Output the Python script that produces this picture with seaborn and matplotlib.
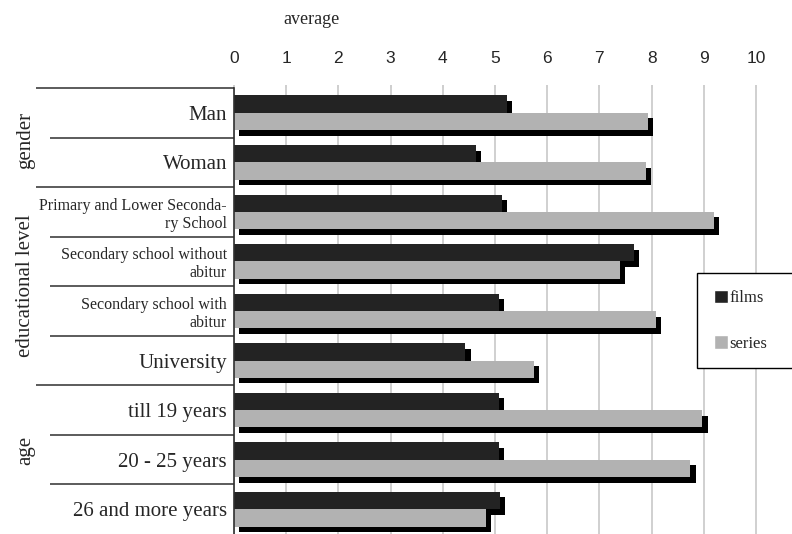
import matplotlib
matplotlib.use("Agg")
import matplotlib.pyplot as plt
import matplotlib.patheffects as pe
import matplotlib.transforms as mtransforms
from matplotlib.patches import Patch
import seaborn as sns
import pandas as pd

categories = ["Man", "Woman", "Primary and Lower Seconda-\nry School",
              "Secondary school without\nabitur", "Secondary school with\nabitur",
              "University", "till 19 years", "20 - 25 years", "26 and more years"]
films = [5.23, 4.64, 5.13, 7.66, 5.08, 4.43, 5.08, 5.08, 5.10]
series = [7.93, 7.89, 9.19, 7.39, 8.08, 5.75, 8.97, 8.74, 4.83]
groups = ["gender", "educational level", "age"]
group_centers = [0.55, 3.49, 6.82]
xticks = [0, 1, 2, 3, 4, 5, 6, 7, 8, 9, 10]

df = pd.DataFrame({
    "category": categories * 2,
    "value": films + series,
    "type": ["films"] * len(films) + ["series"] * len(series),
})

sns.set_theme(style="white")
plt.rcParams["font.family"] = ["Liberation Serif", "DejaVu Serif"]

W, H = 792, 534
fig = plt.figure(figsize=(W / 100, H / 100), dpi=100)
left, right, top = 234, 770, 88
ax = fig.add_axes([left / W, 0, (right - left) / W, (H - top) / H])

colors = {"films": "#232323", "series": "#b2b2b2"}
sns.barplot(data=df, y="category", x="value", hue="type", order=categories,
            hue_order=["films", "series"], palette=colors, width=0.7,
            orient="h", ax=ax, legend=False, saturation=1, linewidth=0)

shadow = [pe.SimplePatchShadow(offset=(3.8, -4.0), shadow_rgbFace="black", alpha=1.0), pe.Normal()]
for p in ax.patches:
    p.set_path_effects(shadow)

ax.set_xlim(0, (right - left) / 52.2)
ax.set_ylim(8.5, -0.5)
ax.set_xticks(xticks)
ax.xaxis.tick_top()
ax.tick_params(axis="x", top=True, length=2, color="#c8c8c8", pad=14,
               labelsize=12.5, labelfontfamily="Liberation Sans")
ax.grid(axis="x", color="#c8c8c8", linewidth=1.2)
ax.set_axisbelow(True)
ax.set_xlabel("")
ax.set_ylabel("")
for s in ["top", "right", "bottom"]:
    ax.spines[s].set_visible(False)
ax.spines["left"].set_color("#303030")
ax.spines["left"].set_linewidth(1.2)

ax.set_yticks(range(len(categories)))
ax.set_yticklabels(categories)
ax.tick_params(axis="y", length=0, pad=5)
for t in ax.get_yticklabels():
    t.set_fontsize(11.5 if "\n" in t.get_text() else 15)
    t.set_linespacing(1.15)
    t.set_horizontalalignment("right")
    t.set_multialignment("right")

# separators
trans = mtransforms.blended_transform_factory(fig.transFigure, ax.transData)
group_bounds = {-0.5, 1.5, 5.5}
for b in [-0.5, 0.5, 1.5, 2.5, 3.5, 4.5, 5.5, 6.5, 7.5]:
    x0 = 36 if b in group_bounds else 50
    ax.plot([x0 / W, left / W], [b, b], transform=trans, color="#404040",
            lw=1.2, clip_on=False, solid_capstyle="butt")

for g, c in zip(groups, group_centers):
    ax.text(26 / W, c, g, transform=trans, rotation=90, ha="center",
            va="center", fontsize=15)

fig.text(311 / W, 1 - 20 / H, "average", ha="center", va="center", fontsize=13)

handles = [Patch(facecolor=colors["films"], label="films"),
           Patch(facecolor=colors["series"], label="series")]
leg = ax.legend(handles=handles, loc="upper left",
                bbox_to_anchor=(697 / W, (H - 373) / H, 0.2, (373 - 273) / H),
                bbox_transform=fig.transFigure, mode="expand", fontsize=12,
                frameon=True, fancybox=False, framealpha=1, edgecolor="black",
                borderpad=1.0, labelspacing=1.75, handlelength=0.85,
                handleheight=0.85, handletextpad=0.1, borderaxespad=0)
leg.get_frame().set_linewidth(1.0)

fig.savefig("out.png", dpi=100)
